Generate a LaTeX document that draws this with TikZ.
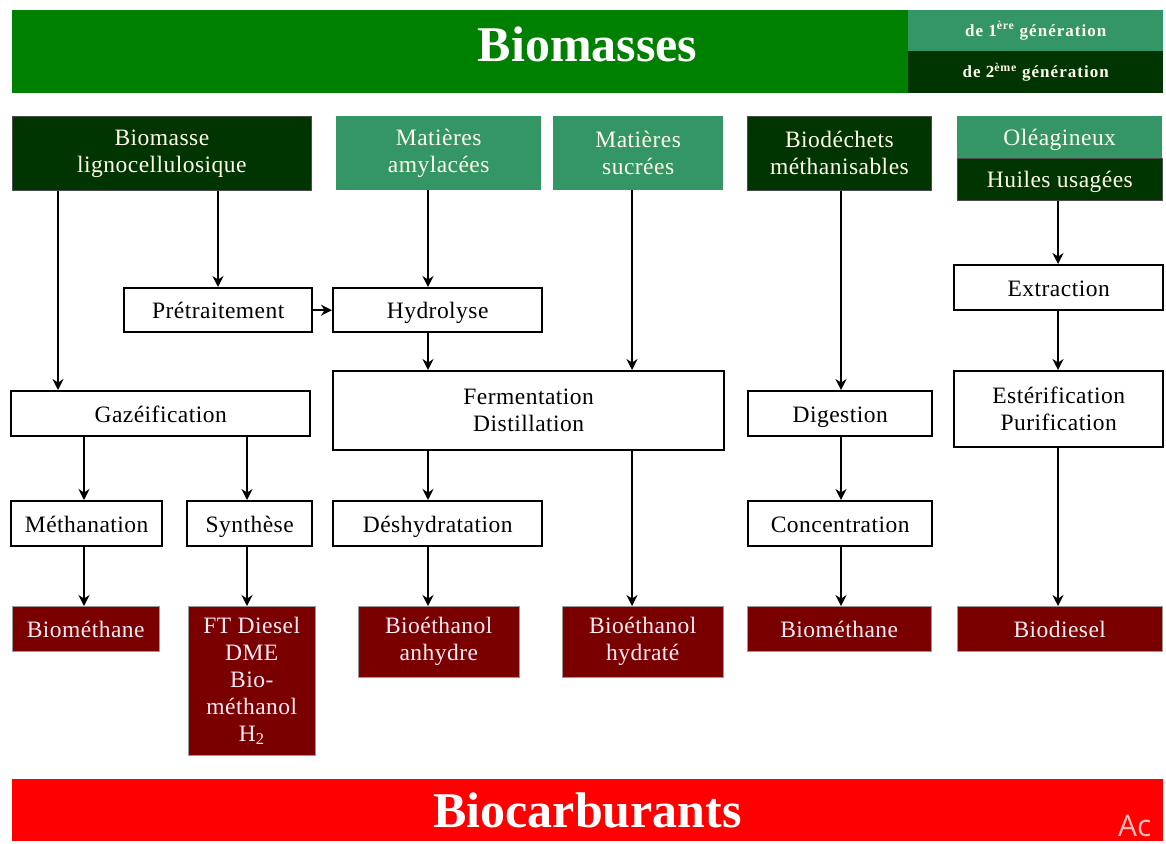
\documentclass[tikz,border=0pt]{standalone}
\usepackage{fontspec}
\setmainfont{Liberation Serif}
\newfontfamily\wmfont{Open Sans}
\usetikzlibrary{arrows.meta,positioning}

\definecolor{barGreen}{RGB}{0,128,0}
\definecolor{lightGreen}{RGB}{52,150,100}
\definecolor{darkGreen}{RGB}{0,52,0}
\definecolor{darkRed}{RGB}{122,0,0}
\definecolor{brightRed}{RGB}{255,0,0}

\tikzset{
  box/.style={anchor=north west, inner sep=0pt, align=center, font=\fontsize{23.5}{27}\selectfont\addfontfeatures{LetterSpace=2}},
  oneline/.style={text height=19pt, text depth=2pt},
  proc/.style={box, draw=black, line width=2.4pt, fill=white, text=black},
  srcdark/.style={box, fill=darkGreen, draw=black!70, line width=0.8pt, text=white!92!yellow},
  srclight/.style={box, fill=lightGreen, text=white!92!yellow},
  prod/.style={box, fill=darkRed, draw=black!40, line width=0.5pt, text=white!92!magenta},
  gen/.style={box, minimum width=255pt, text=white!92!yellow, font=\bfseries\fontsize{17}{18}\selectfont\addfontfeatures{LetterSpace=6}},
  flow/.style={-{Stealth[length=11pt,width=11pt]}, line width=2.2pt}
}

\begin{document}
\begin{tikzpicture}[x=1pt, y=-1pt]
  \useasboundingbox (0,0) rectangle (1166,843);

  % bandeaux
  \node[box, fill=barGreen, minimum width=1151pt, minimum height=83pt, text=white, font=\bfseries\fontsize{50}{56}\selectfont, text height=34pt, text depth=14pt] (biom) at (12,10) {Biomasses};
  \node[gen, fill=lightGreen, minimum height=41pt] (gen1) at (908,10) {de 1\textsuperscript{ère} génération};
  \node[gen, fill=darkGreen, minimum height=42pt] (gen2) at (908,51) {de 2\textsuperscript{ème} génération};
  \node[box, fill=brightRed, minimum width=1151pt, minimum height=62pt, text=white, font=\bfseries\fontsize{50}{56}\selectfont] (bioc) at (12,779) {Biocarburants};

  % ressources
  \node[srcdark, minimum width=299pt, minimum height=74pt] (ligno) at (12,116) {Biomasse\\lignocellulosique};
  \node[srclight, minimum width=205pt, minimum height=74pt] (amyl) at (336,116) {Matières\\amylacées};
  \node[srclight, minimum width=170pt, minimum height=74pt] (sucr) at (553,116) {Matières\\sucrées};
  \node[srcdark, minimum width=184pt, minimum height=74pt] (dech) at (747,116) {Biodéchets\\méthanisables};
  \node[srclight, oneline, minimum width=205pt, minimum height=42pt] (oleag) at (957,116) {Oléagineux};
  \node[srcdark, oneline, minimum width=205pt, minimum height=42pt] (huile) at (957,158) {Huiles usagées};

  % procedes
  \node[proc, oneline, minimum width=188pt, minimum height=44pt] (pretr) at (123,287) {Prétraitement};
  \node[proc, oneline, minimum width=209pt, minimum height=44pt] (hydro) at (332,287) {Hydrolyse};
  \node[proc, oneline, minimum width=209pt, minimum height=45pt] (extr) at (953,264) {Extraction};
  \node[proc, oneline, minimum width=299pt, minimum height=45pt] (gazei) at (10,390) {Gazéification};
  \node[proc, minimum width=391pt, minimum height=79pt] (ferm) at (332,370) {Fermentation\\Distillation};
  \node[proc, oneline, minimum width=184pt, minimum height=45pt] (diges) at (747,390) {Digestion};
  \node[proc, minimum width=209pt, minimum height=76pt] (ester) at (953,370) {Estérification\\Purification};
  \node[proc, oneline, minimum width=151pt, minimum height=45pt] (metha) at (10,500) {Méthanation};
  \node[proc, oneline, minimum width=125pt, minimum height=45pt] (synth) at (186,500) {Synthèse};
  \node[proc, oneline, minimum width=209pt, minimum height=45pt] (deshy) at (332,500) {Déshydratation};
  \node[proc, oneline, minimum width=184pt, minimum height=45pt] (conc) at (747,500) {Concentration};

  % produits
  \node[prod, oneline, minimum width=147pt, minimum height=45pt] (bmeth1) at (12,606) {Biométhane};
  \node[prod, minimum width=127pt, minimum height=149pt] (ftdie) at (188,606) {FT Diesel\\DME\\Bio-\\méthanol\\H\textsubscript{2}};
  \node[prod, minimum width=161pt, minimum height=71pt] (anhyd) at (358,606) {Bioéthanol\\anhydre};
  \node[prod, minimum width=161pt, minimum height=71pt] (hydra) at (562,606) {Bioéthanol\\hydraté};
  \node[prod, oneline, minimum width=184pt, minimum height=45pt] (bmeth2) at (747,606) {Biométhane};
  \node[prod, oneline, minimum width=205pt, minimum height=45pt] (bdies) at (957,606) {Biodiesel};

  % colonnes des fleches
  \coordinate (c1) at (58,0);   \coordinate (c2) at (218,0);
  \coordinate (c3) at (84,0);   \coordinate (c4) at (247,0);
  \coordinate (c5) at (428,0);  \coordinate (c6) at (632,0);
  \coordinate (c7) at (841,0);  \coordinate (c8) at (1058,0);

  \draw[flow] (ligno.south -| c1) -- (gazei.north -| c1);
  \draw[flow] (ligno.south -| c2) -- (pretr.north -| c2);
  \draw[flow] (pretr.east) -- (hydro.west);
  \draw[flow] (amyl.south -| c5) -- (hydro.north -| c5);
  \draw[flow] (hydro.south -| c5) -- (ferm.north -| c5);
  \draw[flow] (sucr.south -| c6) -- (ferm.north -| c6);
  \draw[flow] (gazei.south -| c3) -- (metha.north -| c3);
  \draw[flow] (gazei.south -| c4) -- (synth.north -| c4);
  \draw[flow] (metha.south -| c3) -- (bmeth1.north -| c3);
  \draw[flow] (synth.south -| c4) -- (ftdie.north -| c4);
  \draw[flow] (ferm.south -| c5) -- (deshy.north -| c5);
  \draw[flow] (deshy.south -| c5) -- (anhyd.north -| c5);
  \draw[flow] (ferm.south -| c6) -- (hydra.north -| c6);
  \draw[flow] (dech.south -| c7) -- (diges.north -| c7);
  \draw[flow] (diges.south -| c7) -- (conc.north -| c7);
  \draw[flow] (conc.south -| c7) -- (bmeth2.north -| c7);
  \draw[flow] (huile.south -| c8) -- (extr.north -| c8);
  \draw[flow] (extr.south -| c8) -- (ester.north -| c8);
  \draw[flow] (ester.south -| c8) -- (bdies.north -| c8);

  \node[anchor=west, inner sep=0pt, text=white!75!brightRed, font=\wmfont\fontsize{30}{32}\selectfont] (wmark) at (1118,826) {Ac};
\end{tikzpicture}
\end{document}
